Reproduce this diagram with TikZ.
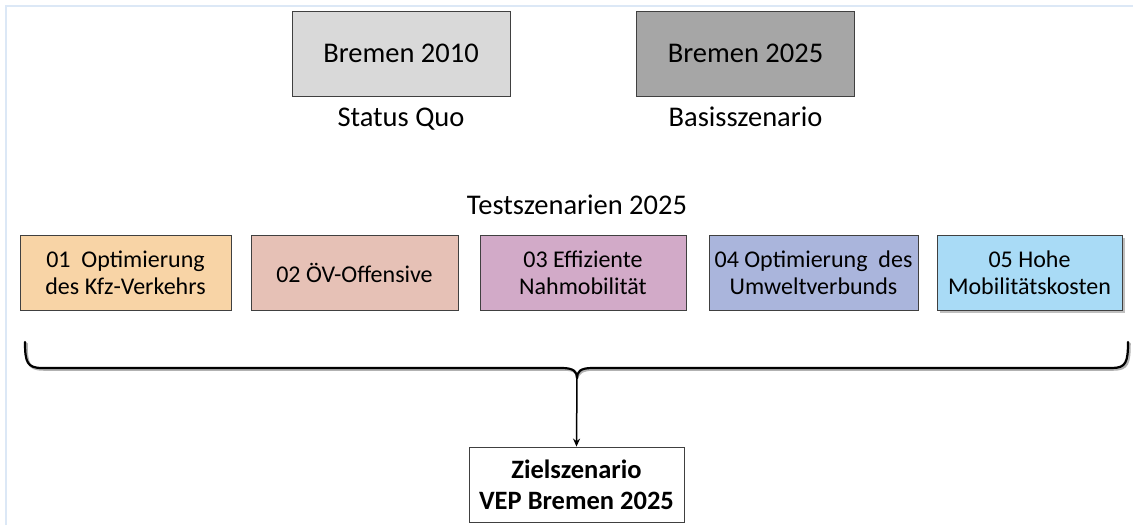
\documentclass[tikz,border=0pt]{standalone}
\usepackage{fontspec}
\setmainfont{Carlito}
\usetikzlibrary{arrows.meta}
\definecolor{frameblue}{HTML}{DCE8F6}
\definecolor{bordergray}{HTML}{404040}
\definecolor{cA}{HTML}{F8D4A6}
\definecolor{cB}{HTML}{E6C1B6}
\definecolor{cC}{HTML}{D2AAC8}
\definecolor{cD}{HTML}{AAB5DC}
\definecolor{cE}{HTML}{A9DBF6}
\definecolor{gL}{HTML}{D9D9D9}
\definecolor{gD}{HTML}{A6A6A6}
\tikzset{
  topbox/.style={draw=bordergray, line width=0.8pt, minimum width=218pt, minimum height=85pt, font=\fontsize{28.5}{32}\selectfont, inner sep=0pt},
  scenbox/.style={draw=bordergray, line width=0.8pt, minimum height=75pt, align=center, font=\fontsize{24}{27}\selectfont, inner sep=0pt},
  lbl/.style={font=\fontsize{28.5}{32}\selectfont, inner sep=0pt, anchor=base},
  zielbox/.style={draw=bordergray, line width=0.8pt, minimum width=215pt, minimum height=75pt, align=center, font=\fontsize{26.5}{31}\selectfont\bfseries, fill=white, inner sep=0pt}
}
\begin{document}
\begin{tikzpicture}[x=1pt,y=1pt]
\useasboundingbox (0,0) rectangle (1133,-525);
\fill[white] (0,0) rectangle (1133,-525);
\draw[frameblue, line width=1.5pt] (6,-525) -- (6,-6) -- (1133,-6);

\node[topbox, fill=gL] (b2010) at (401,-53.5) {Bremen 2010};
\node[topbox, fill=gD] (b2025) at (745.5,-53.5) {Bremen 2025};
\node[lbl] (sq) at (401,-126) {Status Quo};
\node[lbl] (bs) at (745.5,-126) {Basisszenario};
\node[lbl] (ts) at (577,-214) {Testszenarien 2025};

\node[scenbox, fill=cA, minimum width=211pt] (s1) at (125.5,-272.5) {01\ \ Optimierung\\des Kfz-Verkehrs};
\node[scenbox, fill=cB, minimum width=207pt] (s2) at (354.5,-272.5) {02 ÖV-Offensive};
\node[scenbox, fill=cC, minimum width=206pt] (s3) at (583,-272.5) {03 Effiziente\\Nahmobilität};
\node[scenbox, fill=cD, minimum width=209pt] (s4) at (813.5,-272.5) {04 Optimierung\ \ des\\Umweltverbunds};
\fill[black!25] (940,-238) rectangle (1125,-313);
\node[scenbox, fill=cE, minimum width=185pt] (s5) at (1029.5,-272.5) {05 Hohe\\Mobilitätskosten};

\coordinate (tip) at (577,-378);
\draw[black!30, line width=2.5pt, line cap=round, line join=round, shift={(1.5pt,-1.5pt)}]
  (25,-342) .. controls (25,-362) and (27,-368) .. (42,-368)
  -- (562,-368) .. controls (574,-368) and (577,-372) .. (tip)
  .. controls (577,-372) and (580,-368) .. (592,-368)
  -- (1112,-368) .. controls (1126,-368) and (1128,-362) .. (1128,-342);
\draw[black, line width=2.2pt, line cap=round, line join=round]
  (25,-342) .. controls (25,-362) and (27,-368) .. (42,-368)
  -- (562,-368) .. controls (574,-368) and (577,-372) .. (tip)
  .. controls (577,-372) and (580,-368) .. (592,-368)
  -- (1112,-368) .. controls (1126,-368) and (1128,-362) .. (1128,-342);

\node[zielbox] (ziel) at (576.5,-484.5) {Zielszenario\\VEP Bremen 2025};
\draw[black, line width=1.5pt, -{Stealth[length=8pt,width=7pt]}] (tip) -- (ziel.north);
\end{tikzpicture}
\end{document}
